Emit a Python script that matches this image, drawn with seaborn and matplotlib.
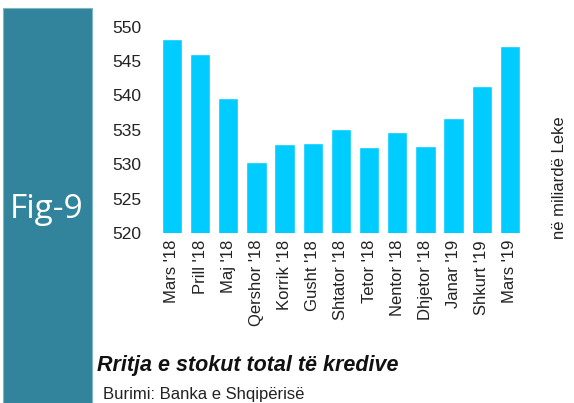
import seaborn as sns
import matplotlib.pyplot as plt
import pandas as pd
from matplotlib.patches import Rectangle

months = ["Mars '18", "Prill '18", "Maj '18", "Qershor '18", "Korrik '18", "Gusht '18",
          "Shtator '18", "Tetor '18", "Nentor '18", "Dhjetor '18", "Janar '19",
          "Shkurt '19", "Mars '19"]
credit_stock = [548.2, 546.0, 539.6, 530.3, 532.9, 533.1, 535.1, 532.5, 534.7,
                532.6, 536.7, 541.4, 547.2]
yticks = [520, 525, 530, 535, 540, 545, 550]

df = pd.DataFrame({'Muaji': months, 'Stoku': credit_stock})

sns.set_style('white')
plt.rcParams['font.family'] = ['Liberation Sans', 'DejaVu Sans']

fig = plt.figure(figsize=(5.74, 4.03), dpi=100)
ax = fig.add_axes([0.275, 0.422, 0.638, 0.512])

sns.barplot(data=df, x='Muaji', y='Stoku', color='#00CCFF', saturation=1,
            width=0.72, ax=ax)
ax.set_ylim(520, 550)
ax.set_xlim(-0.5, len(months) - 0.5)
ax.set_yticks(yticks)
ax.set_yticklabels([str(v) for v in yticks], fontsize=12.5, color='#222222')
ax.set_xticks(range(len(months)))
ax.set_xticklabels(months, rotation=90, fontsize=12, color='#222222')
ax.tick_params(axis='y', length=0, pad=12)
ax.tick_params(axis='x', length=0, pad=5)
ax.set_xlabel('')
ax.set_ylabel('')
sns.despine(ax=ax, left=True, bottom=True)

# teal side panel
fig.add_artist(Rectangle((3 / 574, 0), 89 / 574, 1 - 8 / 403,
                         transform=fig.transFigure, facecolor='#31849B',
                         edgecolor='#7fb6c4', linewidth=0.8))
fig.text(47 / 574, 1 - 210 / 403, 'Fig-9', color='white', fontsize=24,
         ha='center', va='center', family=['Open Sans', 'DejaVu Sans'])

fig.text(560 / 574, 1 - 178 / 403, 'në miliardë Leke', rotation=90,
         fontsize=12, ha='center', va='center', color='#222222')
fig.text(97 / 574, 1 - 366 / 403, 'Rritja e stokut total të kredive',
         fontsize=15.5, fontweight='bold', fontstyle='italic', ha='left',
         va='center', color='#111111')
fig.text(103 / 574, 1 - 395 / 403, 'Burimi: Banka e Shqipërisë',
         fontsize=12, ha='left', va='center', color='#222222')

plt.savefig('out.png', dpi=100)
